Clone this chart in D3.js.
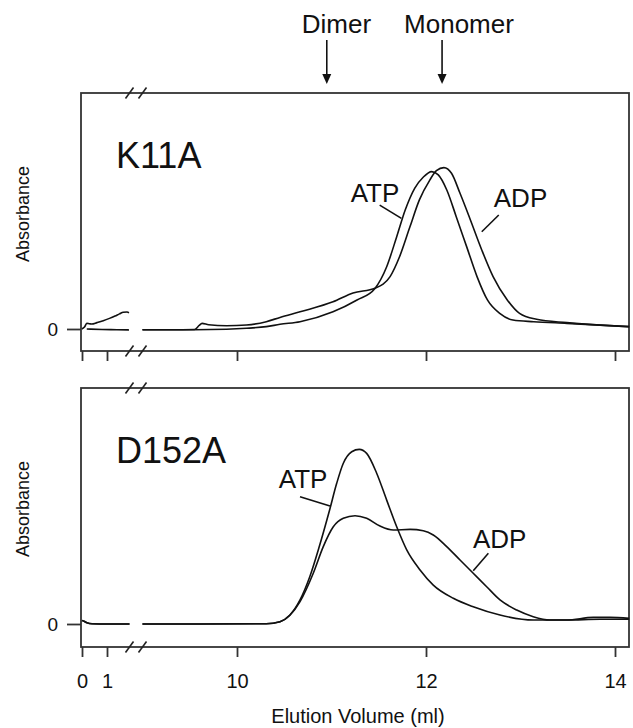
<!DOCTYPE html>
<html>
<head>
<meta charset="utf-8">
<script src="https://cdn.jsdelivr.net/npm/d3@7"></script>
<style>
body{margin:0;background:#fff;}
text{font-family:"Liberation Sans",Arial,Helvetica,sans-serif;fill:#111;}
</style>
</head>
<body>
<svg id="chart"></svg>
<script>
// ---- data (elution volume in ml, absorbance in arbitrary units) ----
var xTicks = [0, 1, 10, 12, 14];
var markers = [{name:"Dimer", ml:10.95, dx:-25}, {name:"Monomer", ml:12.17, dx:-38}];

// K11A
var k11aLeftADP = [[0,0],[0.1,0.8],[0.19,2.4],[0.3,2.2],[0.39,2.1],[0.6,2.7],[0.85,3.5],[1.1,4.5],[1.32,5.5],[1.5,6.4],[1.65,7.1],[1.8,7.2],[1.88,6.9]];
var k11aLeftATP = [[0.19,0],[0.8,-0.2],[1.4,-0.3],[1.88,-0.4]];
var k11aADP = [[8.97,-0.3],[9.3,-0.3],[9.55,-0.2],[9.6,1.5],[9.63,2.4],[9.7,1.8],[9.89,1.4],[10.1,1.7],[10.31,3.1],[10.455,4.9],[10.667,7.3],[11.016,11.5],[11.228,15.3],[11.46,17.3],[11.62,22.2],[11.72,30.6],[11.83,43.3],[11.93,54.7],[12.04,63.1],[12.11,67.1],[12.19,68.4],[12.27,66],[12.36,57.5],[12.47,46.2],[12.59,33.5],[12.71,22.2],[12.86,12.3],[12.99,6.6],[13.17,4.1],[13.49,2.7],[14.15,1.0]];
var k11aATP = [[8.97,-0.3],[9.55,-0.3],[9.89,-0.1],[10.1,0.3],[10.31,1.0],[10.455,2.0],[10.667,3.1],[11.016,7.3],[11.27,12.3],[11.46,17.2],[11.584,26.4],[11.69,39.1],[11.78,50.4],[11.88,59.6],[11.97,64.3],[12.06,66.7],[12.13,65.3],[12.22,58.9],[12.32,47.6],[12.43,34.9],[12.54,22.2],[12.65,12.3],[12.78,6.6],[12.92,3.8],[13.14,3.1],[13.49,2.4],[14.15,1.0]];

// D152A
var d152aLeft = [[0,1.5],[0.08,1.2],[0.2,0.5],[0.4,0.1],[1,0],[1.9,0]];
var d152aATP = [[8.97,0],[9.6,0],[10.31,0.1],[10.455,1.0],[10.56,3.8],[10.667,10.2],[10.77,20.0],[10.87,32.7],[10.98,48.3],[11.055,59.6],[11.125,68.1],[11.214,73.0],[11.294,74.0],[11.372,72.3],[11.478,63.9],[11.584,52.5],[11.69,41.2],[11.796,31.4],[11.937,22.9],[12.077,16.5],[12.289,10.9],[12.5,7.3],[12.783,3.8],[13.135,1.7],[13.489,1.7],[13.77,2.8],[13.947,2.8],[14.15,2.4]];
var d152aADP = [[8.97,0],[9.6,0],[10.31,0.1],[10.455,1.0],[10.667,9.5],[10.807,21.5],[10.913,32.8],[11.019,41.2],[11.125,44.8],[11.249,45.9],[11.372,44.8],[11.513,41.5],[11.654,39.8],[11.831,40.1],[11.971,39.5],[12.077,37.7],[12.219,32.8],[12.36,27.1],[12.5,21.5],[12.642,15.8],[12.783,10.2],[12.96,5.9],[13.135,3.1],[13.31,1.7],[13.489,1.7],[13.84,2.0],[14.15,2.0]];

// labels with leader lines: text at [ml,value], leader from -> to
var k11aNotes = [{text:"ATP", at:[11.46,53.9], from:[11.51,52.5], to:[11.74,46.9]},
                 {text:"ADP", at:[13.0,51.8], from:[12.77,48.3], to:[12.59,41.2]}];
var d152aNotes = [{text:"ATP", at:[10.70,57.6], from:[10.667,53.9], to:[10.984,50.0]},
                  {text:"ADP", at:[12.78,32.2], from:[12.66,30.0], to:[12.50,22.6]}];

var panels = [
    {name:"K11A", top:93, bottom:351, zero:329, segs:[k11aLeftADP,k11aLeftATP,k11aADP,k11aATP], notes:k11aNotes, labels:false},
    {name:"D152A", top:388, bottom:647, zero:624, segs:[d152aLeft,d152aLeft,d152aATP,d152aADP], notes:d152aNotes, labels:true}
];

var screen = {width:633, height:728};
var frame = {left:81, right:629};

// broken x axis: 0-2 ml on the left, 9-14 ml on the right
var xScale = d3.scaleLinear()
    .domain([0, 2, 9, 14])
    .range([82, 132, 142.5, 615]);

var svg = d3.select("#chart")
    .attr("width", screen.width)
    .attr("height", screen.height);

svg.append("rect").attr("width", screen.width).attr("height", screen.height).attr("fill", "#fff");

var breakX = (xScale(1.9) + xScale(9)) / 2;

var drawBreak = function(g, y)
{
    [-6.5, 6.5].forEach(function(off)
    {
        g.append("line")
            .attr("x1", breakX + off - 4).attr("y1", y + 5.5)
            .attr("x2", breakX + off + 4).attr("y2", y - 5.5)
            .attr("stroke", "#222").attr("stroke-width", 1.6);
    });
};

var drawPanel = function(p)
{
    var yScale = d3.scaleLinear()
        .domain([0, 100])
        .range([p.zero, p.zero - 236]);

    var g = svg.append("g");

    // frame
    g.append("rect")
        .attr("x", frame.left).attr("y", p.top)
        .attr("width", frame.right - frame.left)
        .attr("height", p.bottom - p.top)
        .attr("fill", "none").attr("stroke", "#333").attr("stroke-width", 1.8);

    // x axis
    var xAxis = d3.axisBottom(xScale)
        .tickValues(xTicks)
        .tickSize(10)
        .tickPadding(17)
        .tickFormat(p.labels ? d3.format("d") : "");
    var ax = g.append("g")
        .attr("transform", "translate(0," + p.bottom + ")")
        .call(xAxis);
    ax.select(".domain").remove();
    ax.selectAll("line").attr("stroke", "#333").attr("stroke-width", 1.8);
    ax.selectAll("text").style("font-size", "20px").attr("fill", "#111");

    // y axis (only zero)
    var yAxis = d3.axisLeft(yScale).tickValues([0]).tickSize(14).tickPadding(9);
    var ay = g.append("g")
        .attr("transform", "translate(" + frame.left + ",0)")
        .call(yAxis);
    ay.select(".domain").remove();
    ay.selectAll("line").attr("stroke", "#333").attr("stroke-width", 1.8);
    ay.selectAll("text").style("font-size", "19px").attr("fill", "#111");

    g.append("text")
        .attr("transform", "translate(29," + ((p.top + p.zero) / 2 + 3) + ") rotate(-90)")
        .attr("text-anchor", "middle")
        .style("font-size", "18px")
        .text("Absorbance");

    drawBreak(g, p.top);
    drawBreak(g, p.bottom);

    var line = d3.line()
        .x(function(d) { return xScale(d[0]); })
        .y(function(d) { return yScale(d[1]); })
        .curve(d3.curveMonotoneX);

    g.selectAll("path.trace")
        .data(p.segs)
        .enter()
        .append("path")
        .attr("class", "trace")
        .attr("d", line)
        .attr("fill", "none")
        .attr("stroke", "#111")
        .attr("stroke-width", 1.6);

    // panel name
    g.append("text")
        .attr("x", 116).attr("y", p.top + 75)
        .style("font-size", "36px")
        .text(p.name);

    // ATP / ADP labels
    p.notes.forEach(function(n)
    {
        g.append("text")
            .attr("x", xScale(n.at[0])).attr("y", yScale(n.at[1]))
            .attr("text-anchor", "middle")
            .style("font-size", "26px")
            .text(n.text);
        g.append("line")
            .attr("x1", xScale(n.from[0])).attr("y1", yScale(n.from[1]))
            .attr("x2", xScale(n.to[0])).attr("y2", yScale(n.to[1]))
            .attr("stroke", "#111").attr("stroke-width", 1.6);
    });
};

panels.forEach(drawPanel);

// Dimer / Monomer arrows
markers.forEach(function(m)
{
    var mx = xScale(m.ml);
    svg.append("text")
        .attr("x", mx + m.dx).attr("y", 33)
        .style("font-size", "26px")
        .text(m.name);
    svg.append("line")
        .attr("x1", mx).attr("y1", 40)
        .attr("x2", mx).attr("y2", 76)
        .attr("stroke", "#111").attr("stroke-width", 1.6);
    svg.append("path")
        .attr("d", "M" + (mx - 4.5) + ",74L" + (mx + 4.5) + ",74L" + mx + ",84Z")
        .attr("fill", "#111");
});

svg.append("text")
    .attr("x", 358).attr("y", 723)
    .attr("text-anchor", "middle")
    .style("font-size", "20px")
    .text("Elution Volume (ml)");
</script>
</body>
</html>
